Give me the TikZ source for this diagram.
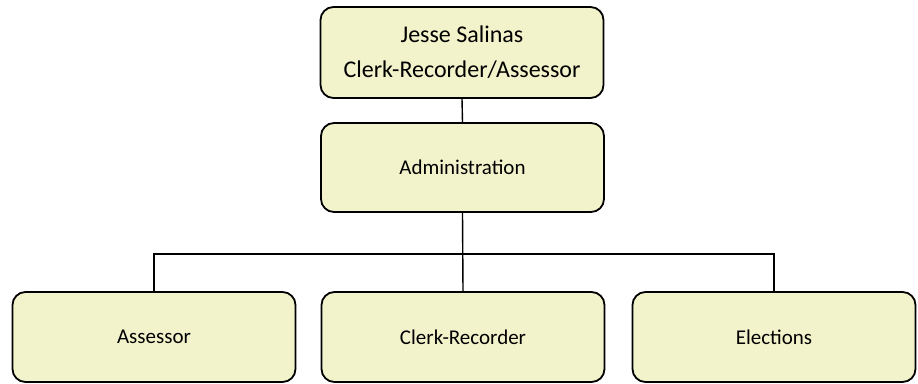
\documentclass[tikz,border=0pt]{standalone}
\usepackage{fontspec}
\setmainfont{Carlito}
\definecolor{boxfill}{RGB}{243,243,203}
\begin{document}
\begin{tikzpicture}[x=1pt,y=-1pt,
  orgbox/.style={draw=black, line width=1.8pt, fill=boxfill, rounded corners=13pt,
    inner sep=0pt, align=center, minimum width=283pt, minimum height=90pt,
    font=\fontsize{21}{25}\selectfont},
  link/.style={draw=black, line width=1.4pt}]
  \useasboundingbox (0,0) rectangle (918,383);
  % head of the office
  \node[orgbox, minimum height=91pt, font=\fontsize{24}{35}\selectfont] (head) at (462,52.5)
    {Jesse Salinas\\Clerk-Recorder/Assessor};
  \node[orgbox, minimum height=89pt] (admin) at (462.5,167.5) {Administration};
  % divisions
  \node[orgbox] (assessor) at (154,337) {Assessor};
  \node[orgbox] (clerk) at (463,337) {Clerk-Recorder};
  \node[orgbox] (elections) at (774,337) {Elections};
  % connectors
  \coordinate (busL) at (154,254);
  \coordinate (busR) at (774,254);
  \path[link] (head.south) -- (admin.north);
  \path[link] (admin.south) -- (clerk.north);
  \path[link] (assessor.north) -- (busL) -- (busR) -- (elections.north);
\end{tikzpicture}
\end{document}
